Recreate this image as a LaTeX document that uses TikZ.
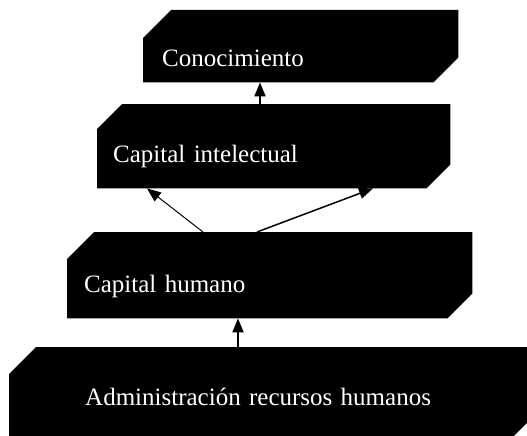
\documentclass[tikz,border=0pt]{standalone}
\usepackage{fontspec}
\setmainfont{Liberation Serif}
\usepackage{tikz}
\usetikzlibrary{arrows.meta,calc,backgrounds}
\tikzset{
  caja/.style = {anchor=north west, inner ysep=0pt, align=left, text=white,
                 font=\fontsize{25}{30}\selectfont},
  flecha/.style = {line width=2pt, -{Triangle[length=14pt,width=11pt]}},
}

\begin{document}
\begin{tikzpicture}[x=1pt,y=-1pt]
\useasboundingbox (0,0) rectangle (527,436);
\clip (0,0) rectangle (527,436);
%
\node[caja, inner xsep=19pt, text width=277pt, text height=56.5pt, text depth=15.5pt] (cono)   at (143,10)  {Conocimiento};
\node[caja, inner xsep=16pt, text width=321pt, text height=58pt,   text depth=26pt]   (capint) at (97,104)  {Capital intelectual};
\node[caja, inner xsep=17pt, text width=371pt, text height=60pt,   text depth=26pt]   (caphum) at (67,232)  {Capital humano};
\node[caja, inner xsep=76pt, text width=371pt, text height=58pt,   text depth=39pt]   (admin)  at (9,347)   {Administración recursos humanos};
%
\begin{scope}[on background layer]
\fill[white] (0,0) rectangle (527,436);
\foreach \n/\a/\b in {cono/28/25, capint/25/24, caphum/27/25, admin/27/27} {
  \fill[black] ($(\n.north west)+(0,\a)$) -- ($(\n.north west)+(\a,0)$) -- (\n.north east)
    -- ($(\n.south east)+(0,-\b)$) -- ($(\n.south east)+(-\b,0)$) -- (\n.south west) -- cycle;
}
\end{scope}
%
\draw[flecha] ($(capint.north west)+(163,0)$) -- ($(cono.south west)+(117,0)$);
\draw[flecha, line width=1pt] ($(caphum.north west)+(136,0)$) -- ($(capint.south west)+(50,0)$);
\draw[flecha, line width=1.5pt] ($(caphum.north west)+(190,0)$) -- ($(capint.south west)+(276,0)$);
\draw[flecha] ($(admin.north west)+(229,0)$) -- ($(caphum.south west)+(171,0)$);
%
\end{tikzpicture}
\end{document}
